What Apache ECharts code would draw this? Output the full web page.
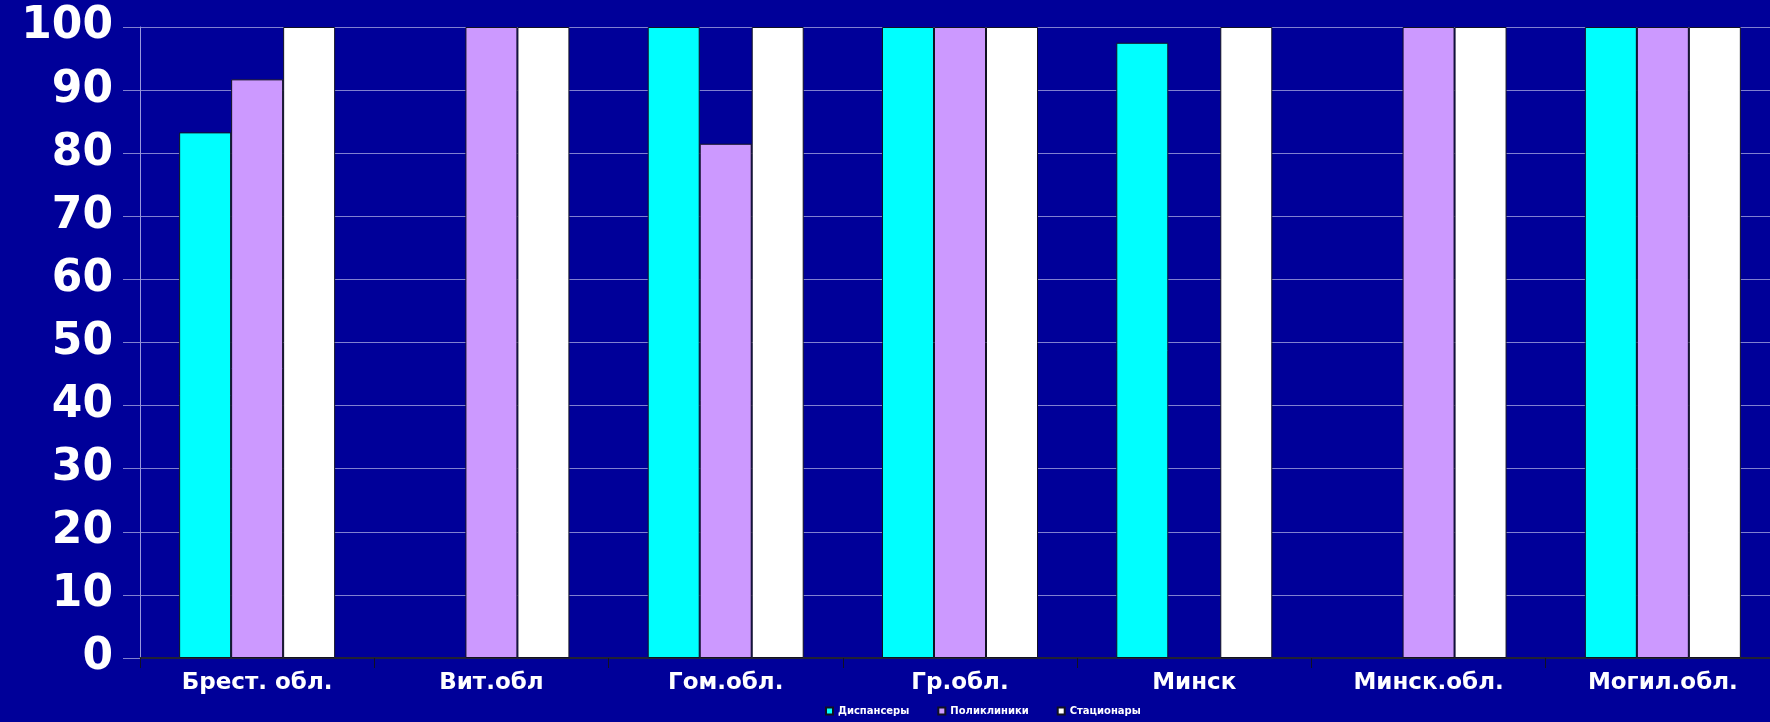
<!DOCTYPE html>
<html>
<head>
<meta charset="utf-8">
<script src="https://cdn.jsdelivr.net/npm/echarts@6/dist/echarts.min.js"></script>
<style>
	html, body { margin: 0; padding: 0; background: #000099; overflow: hidden; }
	#chart { width: 1780px; height: 722px; }
</style>
</head>
<body>
<div id="chart"></div>
<script>
	const categories = ["Брест. обл.", "Вит.обл", "Гом.обл.", "Гр.обл.", "Минск", "Минск.обл.", "Могил.обл."];
	const seriesNames = ["Диспансеры", "Поликлиники", "Стационары"];
	const dispansery = [83.3, "-", 100, 100, 97.5, "-", 100];
	const polikliniki = [91.7, 100, 81.5, 100, "-", 100, 100];
	const stacionary = [100, 100, 100, 100, 100, 100, 100];
	const colors = ["#00FFFF", "#CC99FF", "#FFFFFF"];

	const myChart = echarts.init(document.getElementById("chart"));
	const makeSeries = (name, data, color) => ({
		name: name,
		type: "bar",
		data: data,
		barWidth: 52,
		barGap: "0%",
		itemStyle: {
			color: color,
			borderColor: "#111122",
			borderWidth: 1
		}
	});
	const option = {
		backgroundColor: "#000099",
		animation: false,
		grid: { left: 140, right: 0, top: 27, bottom: 64 },
		legend: {
			bottom: 1,
			left: 820,
			itemWidth: 7,
			itemHeight: 7,
			itemGap: 28,
			icon: "rect",
			textStyle: {
				color: "#FFFFFF",
				fontSize: 10,
				fontWeight: "bold",
				fontFamily: "DejaVu Sans"
			},
			data: seriesNames
		},
		xAxis: {
			type: "category",
			data: categories,
			axisLine: { lineStyle: { color: "#222233", width: 2 } },
			axisTick: { show: true, length: 10, lineStyle: { color: "#111122" } },
			axisLabel: {
				color: "#FFFFFF",
				fontSize: 23,
				fontWeight: "bold",
				fontFamily: "DejaVu Sans",
				margin: 14
			}
		},
		yAxis: {
			type: "value",
			min: 0,
			max: 100,
			interval: 10,
			axisLine: { show: true, lineStyle: { color: "#9999DD", width: 1 } },
			axisTick: { show: true, length: 17, lineStyle: { color: "#8080D0" } },
			splitLine: { lineStyle: { color: "#8080D0", width: 1 } },
			axisLabel: {
				color: "#FFFFFF",
				fontSize: 44,
				fontWeight: "bold",
				fontFamily: "DejaVu Sans",
				margin: 27
			}
		},
		series: [
			makeSeries(seriesNames[0], dispansery, colors[0]),
			makeSeries(seriesNames[1], polikliniki, colors[1]),
			makeSeries(seriesNames[2], stacionary, colors[2])
		]
	};
	myChart.setOption(option);
</script>
</body>
</html>
